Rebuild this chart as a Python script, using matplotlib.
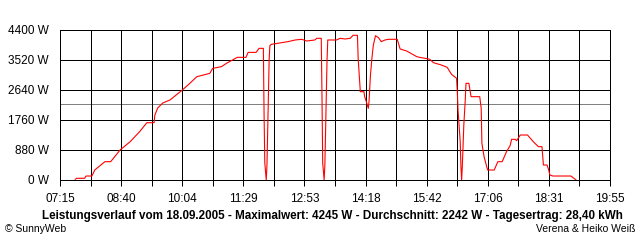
import matplotlib
matplotlib.use("Agg")
import matplotlib.pyplot as plt

plt.rcParams['font.family'] = ['Liberation Sans', 'DejaVu Sans']
plt.rcParams['lines.antialiased'] = False

# Time of day and AC power (W)
times = ["07:36", "07:38", "07:49", "07:51", "07:59", "08:01", "08:03", "08:17", "08:25", "08:38",
         "08:52", "09:05", "09:15", "09:25", "09:26", "09:30", "09:37", "09:47", "10:04", "10:13",
         "10:24", "10:42", "10:46", "10:58", "11:05", "11:20", "11:32", "11:35", "11:46", "11:50",
         "11:56", "11:57", "11:58", "12:00", "12:01", "12:02", "12:03", "12:04", "12:05", "12:07",
         "12:30", "12:40", "12:49", "12:56", "13:07", "13:10", "13:16", "13:17", "13:18", "13:20",
         "13:21", "13:23", "13:24", "13:25", "13:37", "13:42", "13:49", "13:56", "14:00", "14:06",
         "14:07", "14:10", "14:15", "14:16", "14:19", "14:21", "14:22", "14:24", "14:26", "14:28",
         "14:31", "14:35", "14:39", "14:44", "14:49", "15:01", "15:05", "15:14", "15:28", "15:32",
         "15:42", "15:46", "15:51", "16:02", "16:10", "16:16", "16:23", "16:24", "16:25", "16:28",
         "16:29", "16:30", "16:31", "16:33", "16:35", "16:36", "16:40", "16:43", "16:55", "16:57",
         "16:58", "17:01", "17:05", "17:06", "17:15", "17:20", "17:26", "17:32", "17:37", "17:39",
         "17:44", "17:46", "17:51", "18:01", "18:09", "18:16", "18:21", "18:23", "18:28", "18:30",
         "18:32", "18:36", "19:01", "19:07", "19:08"]
watts = [20, 50, 50, 117, 117, 200, 293, 537, 537, 880,
         1125, 1417, 1680, 1680, 1900, 2112, 2260, 2347, 2640, 2807,
         3030, 3128, 3275, 3324, 3422, 3598, 3598, 3744, 3744, 3862,
         3862, 1907, 500, 0, 440, 1467, 2493, 3520, 3940, 3980,
         4058, 4107, 4127, 4077, 4107, 4156, 4156, 2500, 500, 0,
         440, 2493, 3520, 4107, 4107, 4156, 4136, 4156, 4245, 4245,
         3570, 2590, 2590, 2444, 2249, 2102, 2298, 3080, 3570, 3960,
         4234, 4175, 4058, 4107, 4127, 4127, 3843, 3784, 3617, 3598,
         3560, 3540, 3442, 3373, 3305, 3100, 2983, 2590, 2053, 1124,
         391, 0, 440, 1613, 2347, 2836, 2836, 2444, 2444, 2102,
         1076, 684, 362, 293, 293, 537, 537, 831, 1010, 1193,
         1193, 1153, 1320, 1320, 1124, 978, 978, 440, 440, 313,
         147, 117, 117, 20, 0]
average = 2242

tick_labels = ["07:15", "08:40", "10:04", "11:29", "12:53", "14:18", "15:42", "17:06", "18:31", "19:55"]
y_ticks = [0, 880, 1760, 2640, 3520, 4400]

title = ("Leistungsverlauf vom 18.09.2005 - Maximalwert: 4245 W - "
         "Durchschnitt: 2242 W - Tagesertrag: 28,40 kWh")


def to_min(s):
    h, m = s.split(":")
    return int(h) * 60 + int(m)


x = [to_min(t) for t in times]
start, end = to_min(tick_labels[0]), to_min(tick_labels[-1])

fig = plt.figure(figsize=(6.4, 2.4), dpi=100)
ax = fig.add_axes([60 / 640, 60 / 240, 550 / 640, 150 / 240])

px = 0.72  # one pixel in points
ax.axhline(average, color="#808080", lw=px, zorder=1)
ax.plot(x, watts, color="red", lw=0.8, antialiased=True, zorder=3)

ax.set_xlim(start, end)
ax.set_ylim(0, 4400)
major = [start + i * (end - start) / 9 for i in range(10)]
minor = [start + i * (end - start) / 18 for i in range(19)]
ax.set_xticks(major, tick_labels)
ax.set_xticks(minor, minor=True)
ax.set_yticks(y_ticks, [f"{v} W" for v in y_ticks])
ax.grid(True, which="both", color="black", lw=px, zorder=2)
ax.set_axisbelow(False)
for s in ax.spines.values():
    s.set_linewidth(px)
ax.tick_params(axis="x", which="both", length=4, width=px, pad=5, labelsize=8.5)
ax.tick_params(axis="y", length=0, pad=8, labelsize=8.5)

fig.text(332 / 640, 1 - 216 / 240, title, ha="center", va="center", fontweight="bold", fontsize=8.4)
fig.text(5 / 640, 1 - 229 / 240, "© SunnyWeb", ha="left", va="center", fontsize=7.5)
fig.text(635 / 640, 1 - 229 / 240, "Verena & Heiko Weiß", ha="right", va="center", fontsize=7.5)

fig.savefig("out.png", dpi=100)
